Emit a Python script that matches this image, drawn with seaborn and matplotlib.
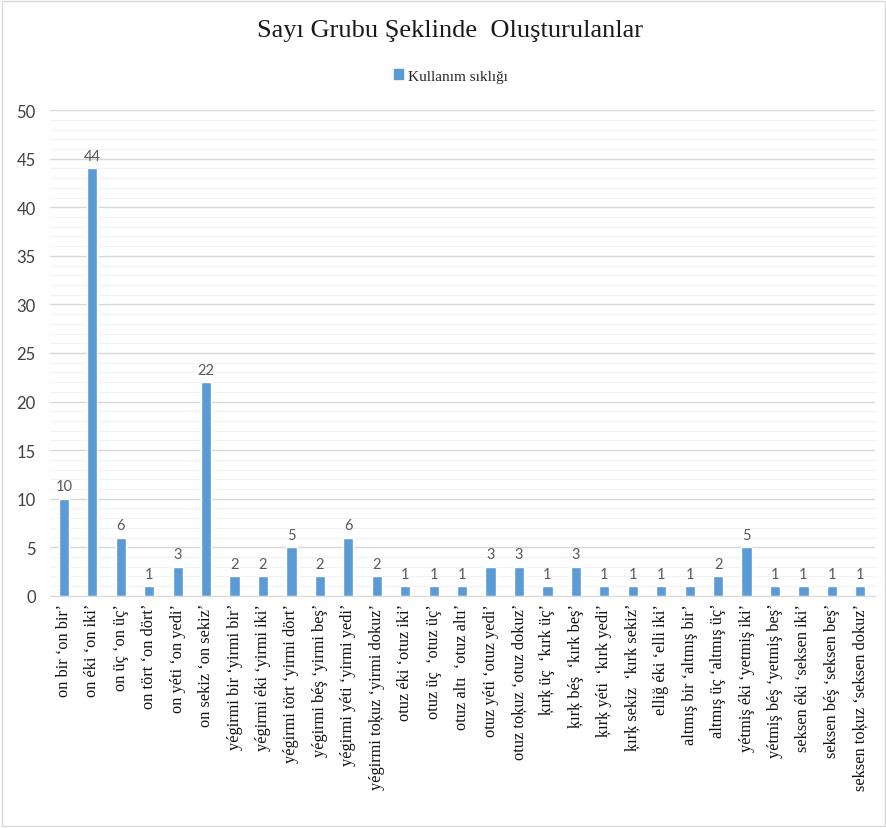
import matplotlib
matplotlib.use("Agg")
import matplotlib.pyplot as plt
from matplotlib.patches import Rectangle
from matplotlib.ticker import MultipleLocator
import seaborn as sns
import pandas as pd

categories = [
    "on bir ‘on bir’", "on éki ‘on iki’", "on üç ‘on üç’", "on tört ‘on dört’",
    "on yéti ‘on yedi’", "on sekiz ‘on sekiz’", "yégirmi bir ‘yirmi bir’",
    "yégirmi éki ‘yirmi iki’", "yégirmi tört ‘yirmi dört’", "yégirmi béş ‘yirmi beş’",
    "yégirmi yéti ‘yirmi yedi’", "yégirmi toķuz ‘yirmi dokuz’", "otuz éki ‘otuz iki’",
    "otuz üç  ‘otuz üç’", "otuz altı  ‘otuz altı’", "otuz yéti ‘otuz yedi’",
    "otuz toķuz ‘otuz dokuz’", "ķırķ üç  ‘kırk üç’", "ķırķ béş  ‘kırk beş’",
    "ķırķ yéti  ‘kırk yedi’", "ķırķ sekiz  ‘kırk sekiz’", "elliğ éki ‘elli iki’",
    "altmış bir ‘altmış bir’", "altmış üç ‘altmış üç’", "yétmiş éki ‘yetmiş iki’",
    "yétmiş béş ‘yetmiş beş’", "seksen éki ‘seksen iki’", "seksen béş ‘seksen beş’",
    "seksen toķuz ‘seksen dokuz’",
]
values = [10, 44, 6, 1, 3, 22, 2, 2, 5, 2, 6, 2, 1, 1, 1, 3, 3, 1, 3, 1, 1, 1, 1, 2, 5, 1, 1, 1, 1]
series_name = "Kullanım sıklığı"
title = "Sayı Grubu Şeklinde  Oluşturulanlar"

df = pd.DataFrame({"kategori": categories, series_name: values})

sns.set_style("white")
plt.rcParams["font.family"] = ["Liberation Serif", "DejaVu Serif"]

fig = plt.figure(figsize=(8.87, 8.29), dpi=100)
ax = fig.add_axes([0.056, 0.280, 0.930, 0.586])

bar_color = "#5B9BD5"
sns.barplot(data=df, x="kategori", y=series_name, color=bar_color, width=0.36,
            saturation=1, ax=ax, label=series_name)

ax.set_ylim(0, 50)
ax.set_xlim(-0.5, len(categories) - 0.5)
ax.yaxis.set_major_locator(MultipleLocator(5))
ax.yaxis.set_minor_locator(MultipleLocator(1))
ax.grid(axis="y", which="major", color="#D9D9D9", linewidth=1.0)
ax.grid(axis="y", which="minor", color="#F2F2F2", linewidth=0.8)
ax.set_axisbelow(True)
for s in ["top", "right", "left"]:
    ax.spines[s].set_visible(False)
ax.spines["bottom"].set_color("#D9D9D9")
ax.set_xlabel("")
ax.set_ylabel("")

ax.tick_params(axis="y", which="both", length=0, pad=10, labelsize=12, labelcolor="#404040")
for lbl in ax.get_yticklabels():
    lbl.set_family(["Lato", "DejaVu Sans"])
ax.tick_params(axis="x", length=0, pad=5)
ax.set_xticks(range(len(categories)))
ax.set_xticklabels(categories, rotation=90, fontsize=11.8, color="#111111")

for c in ax.containers:
    ax.bar_label(c, labels=[str(v) for v in values], padding=4, fontsize=10.5,
                 color="#595959", family=["Lato", "DejaVu Sans"])

fig.text(0.507, 0.963, title, ha="center", va="center", fontsize=19, color="#1a1a1a")
if ax.legend_:
    ax.legend_.remove()
fig.legend(handles=[Rectangle((0, 0), 1, 1, color=bar_color)], labels=[series_name],
           loc="center", bbox_to_anchor=(0.508, 0.907), frameon=False, fontsize=11,
           handlelength=0.6, handleheight=0.6, handletextpad=0.3)

fig.patches.append(Rectangle((0.002, 0.002), 0.996, 0.996, transform=fig.transFigure,
                             fill=False, edgecolor="#D9D9D9", linewidth=1.0))

fig.savefig("out.png", dpi=100)
